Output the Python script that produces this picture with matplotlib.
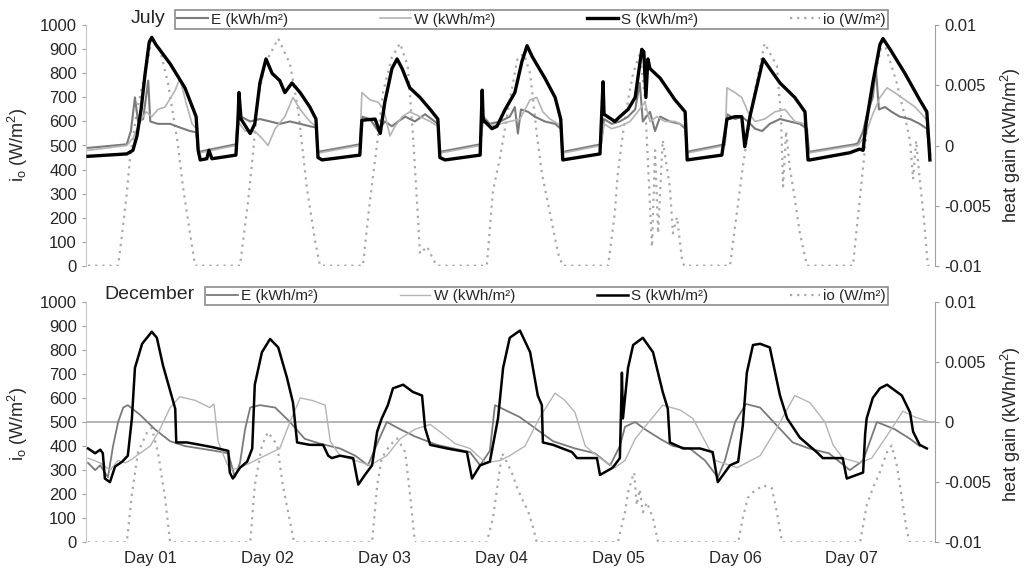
import numpy as np
import matplotlib
matplotlib.use('Agg')
from matplotlib import pyplot as plt
from matplotlib.ticker import FuncFormatter

plt.rcParams['font.family'] = ['Liberation Sans', 'DejaVu Sans']

# time in hours from the start of the record, heat gain in kWh/m2, io in W/m2
# ---------------- July ----------------
S_jul = [(0, -0.0009), (7.6, -0.0007), (8.8, -0.0004), (9.6, 0.0008), (10.4, 0.003), (11.2, 0.006),
         (12.0, 0.0086), (12.5, 0.009), (13.3, 0.0084), (16.1, 0.0068), (19.0, 0.0048), (21.2, 0.0024),
         (21.6, -0.0004), (22.0, -0.0012), (23.3, -0.0011), (23.7, -0.0004), (24.3, -0.0011), (29.0, -0.0008),
         (29.4, 0.002), (29.6, 0.0044), (30.0, 0.0022), (31.8, 0.001), (32.7, 0.0018), (33.7, 0.0052),
         (34.9, 0.0072), (36.1, 0.006), (37.6, 0.0054), (38.6, 0.0044), (40.0, 0.0052), (41.6, 0.0044),
         (43.5, 0.0032), (44.7, 0.0022), (45.1, -0.001), (45.9, -0.0012), (53.3, -0.0008), (53.7, 0.0021),
         (56.3, 0.0022), (57.3, 0.001), (58.2, 0.0036), (59.6, 0.0064), (60.6, 0.0072), (61.6, 0.0064),
         (63.1, 0.0048), (65.1, 0.004), (67.1, 0.003), (68.6, 0.0022), (69.0, -0.001), (70.0, -0.0012),
         (76.9, -0.0008), (77.3, 0.0046), (77.5, 0.002), (77.8, 0.002), (79.2, 0.0014), (80.2, 0.0016),
         (81.8, 0.003), (83.7, 0.0044), (85.1, 0.007), (86.1, 0.0083), (87.1, 0.0074), (89.6, 0.0056),
         (91.6, 0.004), (92.7, 0.0022), (93.1, -0.0012), (100.4, -0.0007), (101.0, 0.0053), (101.2, 0.0026),
         (103.3, 0.002), (104.3, 0.0024), (105.9, 0.003), (107.3, 0.004), (108.6, 0.008), (109.0, 0.0078),
         (109.4, 0.004), (109.8, 0.0072), (110.2, 0.0064), (112.2, 0.0056), (115.1, 0.0038), (117.1, 0.0028),
         (117.5, -0.0012), (124.3, -0.0008), (125.3, 0.0022), (126.9, 0.0024), (128.2, 0.0024), (128.8, -0.0001),
         (129.8, 0.0024), (132.4, 0.0072), (133.7, 0.0064), (135.7, 0.0052), (138.6, 0.004), (140.6, 0.0028),
         (141.2, -0.0012), (141.6, -0.0012), (149.4, -0.0006), (151.3, -0.0003), (152.0, -0.0004), (152.5, 0.0016),
         (153.9, 0.0052), (155.3, 0.0084), (155.9, 0.0089), (157.3, 0.008), (160.2, 0.006), (163.1, 0.0038),
         (164.5, 0.0028), (165.1, -0.0012)]

E_jul = [(0, -0.0002), (7.6, 0.0001), (8.4, 0.0012), (9.2, 0.004), (9.8, 0.002), (10.8, 0.0022), (11.8, 0.0054),
         (12.2, 0.002), (13.7, 0.0018), (16.1, 0.0018), (18.0, 0.0015), (20.0, 0.0012), (21.2, 0.0011),
         (21.6, -0.0006), (22.0, -0.0005), (29.0, 0.0001),
         (29.4, 0.0028), (30.0, 0.0024), (31.8, 0.002), (33.7, 0.0022), (35.7, 0.002), (37.6, 0.0018), (39.6, 0.002),
         (41.6, 0.0018), (43.5, 0.0016), (44.7, 0.0015), (45.1, -0.0006), (45.5, -0.0005), (53.3, 0.0001),
         (53.7, 0.0024), (55.3, 0.0022), (56.9, 0.0012), (58.2, 0.002), (59.6, 0.0016), (60.8, 0.002), (62.2, 0.0024),
         (64.1, 0.002), (66.1, 0.0026), (68.0, 0.002), (68.6, 0.0018), (69.0, -0.0006), (69.4, -0.0005), (76.9, 0.0001),
         (77.5, 0.0024), (78.8, 0.0018), (80.8, 0.002), (82.7, 0.0024), (83.7, 0.0032), (84.3, 0.001), (84.9, 0.003),
         (86.3, 0.0028), (87.6, 0.0024), (89.6, 0.002), (91.6, 0.0018), (92.7, 0.0014), (93.1, -0.0006),
         (93.5, -0.0005), (100.6, 0.0001),
         (101.2, 0.0022), (102.7, 0.0018), (104.3, 0.002), (105.9, 0.0024), (107.3, 0.003), (108.2, 0.0052),
         (108.8, 0.002), (110.2, 0.0028), (111.2, 0.0012), (112.2, 0.0024), (114.1, 0.002), (116.1, 0.0018),
         (117.1, 0.0014), (117.5, -0.0006), (117.8, -0.0005), (124.9, 0.0001),
         (125.3, 0.0026), (126.9, 0.0022), (128.2, 0.0024), (129.4, 0.002), (130.8, 0.0014), (132.2, 0.0012),
         (133.7, 0.0018), (135.7, 0.0022), (137.6, 0.002), (139.6, 0.0018), (141.0, 0.0014), (141.4, -0.0006),
         (141.8, -0.0005), (150.4, 0.0001),
         (151.0, 0.0002), (152.0, 0.0012), (152.9, 0.0028), (153.9, 0.004), (154.5, 0.0064), (155.1, 0.003),
         (156.3, 0.0032), (157.6, 0.0028), (159.2, 0.0024), (161.2, 0.0022), (163.1, 0.0018), (164.5, 0.0014),
         (165.1, -0.0008)]

W_jul = [(0, -0.0004), (7.6, 0.0), (8.8, 0.0006), (10.2, 0.002), (11.4, 0.0028), (12.5, 0.0024), (13.7, 0.003),
         (15.1, 0.0032), (17.1, 0.0046), (18.0, 0.0056), (19.2, 0.0036), (20.4, 0.0018), (21.2, 0.0014),
         (21.6, -0.0004), (22.0, -0.0006), (29.0, 0.0),
         (29.4, 0.002), (30.8, 0.0012), (32.7, 0.0012), (34.1, 0.0006), (35.3, 0.0), (36.7, 0.0014), (38.6, 0.0024),
         (40.2, 0.004), (41.6, 0.003), (43.5, 0.002), (44.7, 0.0016), (45.1, -0.0004), (45.5, -0.0006), (53.3, 0.0),
         (53.7, 0.0044), (55.3, 0.0038), (56.9, 0.0036), (58.0, 0.003), (59.2, 0.0008), (60.2, 0.0016), (61.6, 0.0024),
         (63.1, 0.0028), (65.1, 0.0024), (67.1, 0.002), (68.6, 0.0016), (69.0, -0.0004), (69.4, -0.0006), (76.9, 0.0),
         (77.5, 0.002), (78.8, 0.0016), (80.8, 0.0018), (82.7, 0.002), (84.7, 0.0022), (86.7, 0.0038), (88.0, 0.004),
         (89.2, 0.0028), (90.6, 0.0022), (92.2, 0.0018), (92.9, 0.0016), (93.1, -0.0004), (93.5, -0.0006), (100.6, 0.0),
         (101.2, 0.0018), (102.7, 0.0014), (104.3, 0.0016), (106.3, 0.002), (107.8, 0.0028), (109.2, 0.0036),
         (110.2, 0.002), (111.6, 0.0024), (113.1, 0.002), (115.1, 0.002), (117.1, 0.0016), (117.5, -0.0004),
         (117.8, -0.0006), (124.9, 0.0),
         (125.3, 0.0048), (126.9, 0.0044), (128.2, 0.004), (129.4, 0.0028), (130.8, 0.002), (132.7, 0.0022),
         (134.7, 0.0028), (136.7, 0.003), (138.6, 0.002), (140.6, 0.0018), (141.2, -0.0004), (141.6, -0.0006),
         (150.4, 0.0),
         (151.0, 0.0), (152.4, 0.0008), (153.7, 0.0024), (155.3, 0.004), (156.7, 0.0048), (158.2, 0.0044),
         (160.2, 0.0038), (162.2, 0.0032), (163.5, 0.0026), (164.7, 0.002), (165.3, -0.0008)]

io_jul = [(0, 0), (5.9, 0), (6.7, 136), (7.6, 300), (8.2, 440), (9.6, 648), (11.2, 800), (12.5, 940), (14.1, 900),
          (15.7, 758), (17.5, 523), (18.6, 330), (20.0, 135), (21.0, 0),
          (29.8, 0), (31.4, 270), (32.4, 480), (33.3, 690), (34.7, 840), (37.3, 945), (39.6, 840), (41.2, 648),
          (42.9, 327), (44.5, 106), (45.5, 0),
          (53.9, 0), (55.3, 273), (56.7, 510), (57.8, 717), (59.6, 868), (61.2, 925), (62.7, 830), (63.7, 550),
          (64.5, 273), (65.1, 50), (66.5, 80), (67.6, 30), (68.4, 0),
          (78.2, 0), (79.4, 310), (80.8, 450), (82.7, 690), (84.3, 868), (85.5, 880), (86.7, 800), (88.0, 550),
          (89.0, 385), (90.6, 218), (92.2, 50), (93.1, 0),
          (102.0, 0), (103.3, 218), (103.9, 385), (104.9, 550), (105.9, 690), (106.9, 800), (108.2, 880),
          (109.2, 700), (109.6, 522), (110.6, 78), (111.2, 480), (111.8, 135), (112.7, 522), (114.1, 327),
          (114.7, 135), (115.5, 202), (116.5, 23), (116.9, 0),
          (125.9, 0), (128.4, 410), (130.4, 690), (132.7, 925), (135.1, 830), (135.9, 620), (136.3, 330),
          (136.9, 560), (137.6, 410), (138.6, 280), (139.6, 135), (141.0, 0),
          (150.0, 0), (152.0, 410), (153.3, 690), (155.9, 945), (158.6, 760), (160.2, 620), (161.2, 520),
          (161.8, 360), (162.4, 520), (163.1, 360), (163.9, 200), (164.7, 0), (165.5, 0)]

# ---------------- December ----------------
S_dec = [(0, -0.0022), (1.4, -0.0026), (2.4, -0.0023), (2.9, -0.0026), (3.3, -0.0047), (4.3, -0.005),
         (5.3, -0.0037), (6.7, -0.0033), (7.8, -0.0028), (8.6, 0.0003), (9.2, 0.0045), (10.6, 0.0065),
         (12.5, 0.0075), (13.5, 0.007), (14.7, 0.0047), (16.5, 0.002), (17.1, 0.0011), (17.3, -0.0017),
         (19.4, -0.0017), (22.0, -0.0019), (24.5, -0.0021), (27.5, -0.0024), (27.8, -0.0042), (28.4, -0.0047),
         (29.8, -0.0038), (31.2, -0.0033), (32.2, -0.0022), (32.7, 0.0031), (34.1, 0.0058), (35.7, 0.0069),
         (37.3, 0.0062), (39.0, 0.0037), (40.2, 0.0016), (41.0, -0.0017), (43.5, -0.0019), (46.1, -0.0019),
         (47.1, -0.0028), (47.8, -0.003), (49.4, -0.0028), (52.0, -0.003), (53.0, -0.0052), (54.3, -0.0044),
         (55.7, -0.0036), (56.7, -0.0008), (57.6, 0.0003), (58.8, 0.0014), (59.8, 0.0028), (61.8, 0.0031),
         (63.7, 0.0025), (65.5, 0.0022), (66.1, -0.0005), (67.1, -0.0019), (70.4, -0.0022), (74.3, -0.0025),
         (75.3, -0.0047), (76.9, -0.0036), (78.8, -0.0033), (80.4, 0.0003), (81.4, 0.0045), (82.7, 0.007),
         (84.7, 0.0076), (86.7, 0.0058), (88.2, 0.0022), (89.0, 0.0014), (89.2, -0.0017), (91.2, -0.0019),
         (94.9, -0.0025), (95.9, -0.003), (99.8, -0.003), (100.4, -0.0044), (102.9, -0.0038), (104.3, -0.003),
         (104.7, 0.0041), (104.9, 0.0003), (105.9, 0.0045), (106.9, 0.0064), (108.8, 0.007), (110.8, 0.0058),
         (112.7, 0.0025), (113.7, 0.0011), (114.1, -0.0017), (116.7, -0.0022), (120.0, -0.0022), (122.5, -0.0025),
         (123.5, -0.005), (125.9, -0.0036), (127.5, -0.0033), (128.4, -0.0003), (129.2, 0.0041), (130.4, 0.0064),
         (131.8, 0.0065), (133.7, 0.0062), (135.7, 0.0022), (137.1, 0.0003), (139.6, -0.0013), (142.9, -0.0025),
         (144.1, -0.003), (148.0, -0.003), (148.8, -0.0047), (152.0, -0.0042), (152.4, -0.001), (152.7, 0.0003),
         (153.9, 0.002), (155.3, 0.0028), (156.7, 0.0031), (159.6, 0.0022), (161.2, 0.0008), (161.8, -0.0008),
         (163.1, -0.0019), (164.5, -0.0022)]

E_dec = [(0, -0.0034), (1.4, -0.004), (2.4, -0.0036), (3.9, -0.0046), (4.9, -0.002), (5.9, 0.0), (6.9, 0.0012),
         (7.8, 0.0014), (10.2, 0.0006), (13.1, -0.0006), (16.1, -0.0016), (19.0, -0.002), (22.0, -0.0022),
         (24.9, -0.0024), (27.5, -0.0026), (28.8, -0.0046), (29.8, -0.0034), (30.8, -0.0006), (31.8, 0.0012),
         (33.7, 0.0014), (36.7, 0.0012), (39.6, 0.0), (42.5, -0.0014), (45.5, -0.0018), (49.4, -0.0022),
         (52.4, -0.0028), (54.9, -0.0036), (56.9, -0.0016), (58.6, 0.0), (61.2, -0.0006), (64.1, -0.0012),
         (68.4, -0.0019), (74.9, -0.0025), (76.9, -0.0036), (78.8, -0.0024), (79.8, 0.0014), (80.8, 0.0012),
         (84.7, 0.0004), (88.6, -0.0008), (91.2, -0.0016), (95.5, -0.0022), (99.4, -0.0026), (102.4, -0.0036),
         (104.3, -0.002), (105.3, -0.0004), (107.3, 0.0), (109.2, -0.0006), (112.2, -0.0014), (114.7, -0.002),
         (118.0, -0.0022), (121.0, -0.0032), (123.5, -0.0046), (124.9, -0.0032), (126.9, 0.0), (129.0, 0.0015),
         (131.8, 0.0012), (135.1, -0.0003), (138.2, -0.0017), (141.4, -0.0022), (145.3, -0.0026), (149.4, -0.004),
         (152.0, -0.0032), (154.7, 0.0), (158.2, -0.0006), (161.2, -0.0014), (163.1, -0.002)]

W_dec = [(0, -0.003), (2.4, -0.0034), (4.3, -0.004), (5.9, -0.0032), (7.3, -0.0034), (8.2, -0.0032),
         (10.2, -0.0026), (12.2, -0.002), (14.1, -0.0006), (16.1, 0.0012), (18.0, 0.0021), (21.0, 0.0018),
         (23.9, 0.0012), (24.7, 0.0015), (25.5, -0.0016), (26.3, -0.0025), (27.8, -0.004), (29.8, -0.0038),
         (31.8, -0.0034), (34.7, -0.0028), (37.6, -0.0022), (39.6, 0.0), (41.6, 0.002), (43.9, 0.0018),
         (46.5, 0.0014), (47.5, -0.0016), (49.4, -0.0028), (52.4, -0.0032), (55.3, -0.0036), (58.6, -0.0028),
         (61.2, -0.0014), (64.1, -0.0006), (67.1, -0.0002), (69.0, -0.0008), (72.0, -0.0018), (74.9, -0.0022),
         (78.0, -0.0034), (80.8, -0.0032), (82.7, -0.0028), (85.7, -0.002), (88.6, 0.0004), (91.6, 0.0024),
         (93.5, 0.0018), (95.5, 0.0008), (97.5, -0.002), (100.4, -0.003), (103.3, -0.0038), (105.3, -0.0032),
         (107.3, -0.0014), (109.2, -0.0004), (112.7, 0.0014), (116.1, 0.001), (118.6, 0.0003), (121.0, -0.0016),
         (123.0, -0.0032), (127.3, -0.0038), (131.8, -0.0028), (135.1, -0.0005), (138.6, 0.0022), (141.6, 0.0016),
         (144.5, 0.0), (146.1, -0.0019), (148.0, -0.003), (151.4, -0.0034), (153.7, -0.003), (156.9, -0.001),
         (159.8, 0.0009), (162.2, 0.0004), (165.1, 0.0)]

io_dec = [(0, 0), (7.6, 0), (8.6, 200), (9.8, 375), (11.6, 458), (12.5, 475), (13.7, 375), (15.1, 185), (16.1, 0),
          (31.8, 0), (32.7, 237), (34.1, 403), (35.3, 458), (37.1, 403), (38.2, 237), (40.0, 43), (40.4, 0),
          (55.7, 0), (56.7, 237), (57.6, 350), (59.2, 403), (60.6, 432), (62.2, 375), (63.1, 208), (64.1, 0),
          (78.2, 0), (79.4, 100), (80.4, 250), (81.2, 370), (82.2, 330), (83.1, 290), (84.1, 230), (85.1, 180),
          (86.3, 130), (87.3, 60), (88.0, 0),
          (103.9, 0), (105.3, 125), (105.9, 208), (106.7, 266), (107.1, 290), (107.6, 154), (108.2, 220),
          (108.8, 125), (109.6, 166), (110.8, 100), (111.8, 0),
          (127.5, 0), (128.4, 100), (129.4, 185), (130.4, 208), (132.4, 237), (134.1, 225), (135.1, 125), (136.1, 0),
          (151.4, 0), (152.7, 154), (153.9, 225), (155.3, 292), (156.7, 375), (157.6, 403), (158.6, 321),
          (159.6, 185), (160.6, 43), (161.2, 0), (165.5, 0)]

labels = ['E (kWh/m²)', 'W (kWh/m²)', 'S (kWh/m²)', 'io (W/m²)']
day_labels = ['Day 01', 'Day 02', 'Day 03', 'Day 04', 'Day 05', 'Day 06', 'Day 07']

C_E, C_W, C_IO = '#7a7a7a', '#b4b4b4', '#a8a8a8'
TXT = '#262626'


def panel(ax, io, E, W, S, month, leg_x, s_lw, ew_lw, zero_line):
    ax2 = ax.twinx()
    t, v = zip(*io)
    lio, = ax.plot(t, v, color=C_IO, lw=1.6, ls=(0, (1, 2.2)))
    ax.set_ylim(0, 1000)
    ax.set_xlim(-0.4, 166.1)
    ax.set_yticks(np.arange(0, 1001, 100))
    ax2.set_ylim(-0.01, 0.01)
    ax2.set_yticks([-0.01, -0.005, 0, 0.005, 0.01])
    ax2.yaxis.set_major_formatter(FuncFormatter(lambda y, p: '%g' % y))
    if zero_line:
        ax2.axhline(0, color='#b0b0b0', lw=1.3, zorder=0)
    t, v = zip(*E)
    lE, = ax2.plot(t, v, color=C_E, lw=ew_lw + 0.3)
    t, v = zip(*W)
    lW, = ax2.plot(t, v, color=C_W, lw=ew_lw)
    t, v = zip(*S)
    lS, = ax2.plot(t, v, color='black', lw=s_lw)

    for a in (ax, ax2):
        for s in a.spines.values():
            s.set_visible(False)
        a.tick_params(labelsize=12, colors=TXT, length=3, width=0.8, color='#a0a0a0')
    ax.spines['left'].set_visible(True)
    ax.spines['left'].set_color('#c8c8c8')
    ax2.spines['right'].set_visible(True)
    ax2.spines['right'].set_color('#a0a0a0')
    ax.tick_params(axis='x', length=0)

    leg = ax2.legend([lE, lW, lS, lio], labels, ncol=4, mode='expand', loc='lower left',
                     bbox_to_anchor=(leg_x, 0.985, 0.945 - leg_x, 0.07), bbox_transform=ax.transAxes,
                     fontsize=11, fancybox=False, borderpad=0.15, handlelength=2.0,
                     handletextpad=0.2, borderaxespad=0, framealpha=1)
    leg.get_frame().set_edgecolor('#8c8c8c')
    leg.get_frame().set_linewidth(1.2)
    for txt in leg.get_texts():
        txt.set_color(TXT)
    ax.text(leg_x - 0.012, 1.03, month, transform=ax.transAxes, ha='right', va='center',
            fontsize=14, color=TXT)
    return ax2


fig = plt.figure(figsize=(10.26, 5.74), dpi=100)
ax_top = fig.add_axes([86 / 1026, 308.3 / 574, 849 / 1026, 240.4 / 574])
ax_bot = fig.add_axes([86 / 1026, 31.7 / 574, 849 / 1026, 240.6 / 574])

panel(ax_top, io_jul, E_jul, W_jul, S_jul, 'July', 0.105, 2.4, 1.2, False)
panel(ax_bot, io_dec, E_dec, W_dec, S_dec, 'December', 0.140, 1.8, 1.0, True)

day_pos = np.linspace(12.2, 149.8, 7)
ax_top.set_xticks(day_pos)
ax_top.set_xticklabels([])
ax_bot.set_xticks(day_pos)
ax_bot.set_xticklabels(day_labels)
ax_bot.tick_params(axis='x', pad=6)

ylab = r'i$_\mathregular{o}$ (W/m$^\mathregular{2}$)'
rlab = r'heat gain (kWh/m$^\mathregular{2}$)'
for yc in (145, 424):
    fig.text(18 / 1026, 1 - yc / 574, ylab, rotation=90, ha='center', va='center', fontsize=13, color=TXT)
    fig.text(1011 / 1026, 1 - yc / 574, rlab, rotation=90, ha='center', va='center', fontsize=13, color=TXT)

fig.savefig('out.png', dpi=100)
